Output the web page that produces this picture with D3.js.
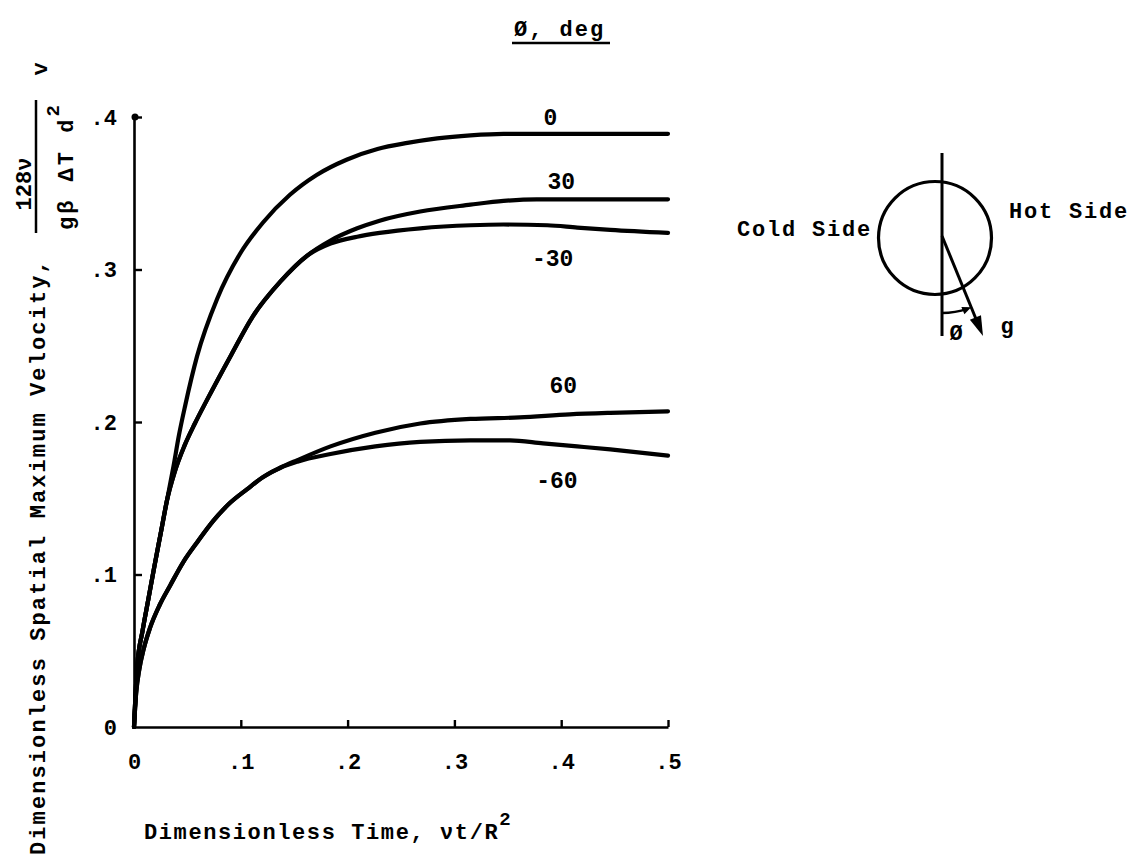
<!DOCTYPE html>
<html>
<head>
<meta charset="utf-8">
<script src="https://cdn.jsdelivr.net/npm/d3@7.9.0/dist/d3.min.js"></script>
<style>
  body { margin: 0; background: #fff; }
  svg { display: block; }
  text { font-family: "Liberation Mono", "DejaVu Sans Mono", monospace; font-weight: bold; fill: #000; }
</style>
</head>
<body>
<svg id="chart" width="1136" height="859"></svg>
<script>
// axis ticks
const timeTicks = [0, 0.1, 0.2, 0.3, 0.4, 0.5];
const timeTickLabels = ["0", ".1", ".2", ".3", ".4", ".5"];
const velTicks = [0, 0.1, 0.2, 0.3, 0.4];
const velTickLabels = ["0", ".1", ".2", ".3", ".4"];

// curves: [time, velocity]
const phi0 = [[0, 0], [0.003, 0.040], [0.008, 0.063], [0.0135, 0.084], [0.019, 0.105], [0.025, 0.127],
  [0.031, 0.149], [0.037, 0.171], [0.042, 0.191], [0.048, 0.211], [0.059, 0.243], [0.078, 0.281],
  [0.099, 0.310], [0.121, 0.331], [0.146, 0.349], [0.171, 0.362], [0.199, 0.372], [0.228, 0.379],
  [0.256, 0.383], [0.284, 0.386], [0.315, 0.388], [0.346, 0.389], [0.446, 0.389], [0.5, 0.389]];
const phi30 = [[0, 0], [0.003, 0.040], [0.008, 0.063], [0.0135, 0.084], [0.019, 0.105], [0.025, 0.127],
  [0.031, 0.149], [0.038, 0.167], [0.047, 0.184], [0.057, 0.199], [0.068, 0.214], [0.091, 0.244],
  [0.111, 0.269], [0.137, 0.292], [0.162, 0.309], [0.184, 0.319], [0.209, 0.327], [0.230, 0.332],
  [0.268, 0.338], [0.315, 0.3425], [0.346, 0.345], [0.377, 0.346], [0.446, 0.346], [0.5, 0.346]];
const phiM30 = [[0, 0], [0.003, 0.040], [0.008, 0.063], [0.0135, 0.084], [0.019, 0.105], [0.025, 0.127],
  [0.031, 0.149], [0.038, 0.167], [0.047, 0.184], [0.057, 0.199], [0.068, 0.214], [0.091, 0.244],
  [0.111, 0.269], [0.137, 0.292], [0.162, 0.309], [0.184, 0.317], [0.209, 0.3215], [0.230, 0.324],
  [0.268, 0.327], [0.315, 0.329], [0.346, 0.3295], [0.387, 0.329], [0.415, 0.3275], [0.446, 0.326], [0.5, 0.324]];
const phi60 = [[0, 0], [0.002, 0.022], [0.005, 0.038], [0.009, 0.051], [0.015, 0.065], [0.024, 0.080],
  [0.034, 0.093], [0.046, 0.108], [0.059, 0.121], [0.074, 0.135], [0.090, 0.147], [0.106, 0.156],
  [0.121, 0.164], [0.137, 0.170], [0.153, 0.175], [0.184, 0.184], [0.226, 0.193], [0.268, 0.199],
  [0.315, 0.202], [0.361, 0.203], [0.408, 0.205], [0.446, 0.206], [0.5, 0.207]];
const phiM60 = [[0, 0], [0.002, 0.022], [0.005, 0.038], [0.009, 0.051], [0.015, 0.065], [0.024, 0.080],
  [0.034, 0.093], [0.046, 0.108], [0.059, 0.121], [0.074, 0.135], [0.090, 0.147], [0.106, 0.156],
  [0.121, 0.164], [0.137, 0.170], [0.153, 0.174], [0.184, 0.179], [0.226, 0.184], [0.268, 0.187],
  [0.315, 0.188], [0.352, 0.188], [0.383, 0.186], [0.415, 0.184], [0.446, 0.182], [0.5, 0.178]];

const seriesNames = ["0", "30", "-30", "60", "-60"];
const seriesData = [phi0, phi30, phiM30, phi60, phiM60];

const svg = d3.select("#chart");

const x = d3.scaleLinear().domain([0, 0.5]).range([134, 668]);
const y = d3.scaleLinear().domain([0, 0.4]).range([727, 117]);

// y axis, ticks pointing into the plot
const yAxis = svg.append("g")
  .attr("transform", `translate(${x(0)},0)`)
  .call(d3.axisLeft(y).tickValues(velTicks)
    .tickFormat((d, i) => velTickLabels[i])
    .tickSizeInner(-8).tickSizeOuter(0).tickPadding(17));

const xAxis = svg.append("g")
  .attr("transform", `translate(0,${y(0)})`)
  .call(d3.axisBottom(x).tickValues(timeTicks)
    .tickFormat((d, i) => timeTickLabels[i])
    .tickSizeInner(-7).tickSizeOuter(0).tickPadding(26));

[yAxis, xAxis].forEach(ax => {
  ax.select(".domain").attr("stroke", "#000").attr("stroke-width", 2.6);
  ax.selectAll(".tick line").attr("stroke", "#000").attr("stroke-width", 2.4);
  ax.selectAll(".tick text").attr("font-size", 22).attr("font-family", null).attr("fill", "#000");
});
// zero ticks would sit on the other axis
yAxis.selectAll(".tick line").filter(d => d === 0).remove();
xAxis.selectAll(".tick line").filter(d => d === 0).remove();
// blob at top of y axis
svg.append("circle").attr("cx", x(0) + 1).attr("cy", y(0.4)).attr("r", 3.5).attr("fill", "#000");

// curves
const line = d3.line()
  .x(d => x(d[0]))
  .y(d => y(d[1]))
  .curve(d3.curveMonotoneX);

svg.append("g").selectAll("path")
  .data(seriesData)
  .join("path")
  .attr("d", line)
  .attr("fill", "none")
  .attr("stroke", "#000")
  .attr("stroke-width", 4.2)
  .attr("stroke-linecap", "round");

// curve labels
const labelAt = [[0.39, 0.395], [0.40, 0.353], [0.392, 0.302], [0.402, 0.219], [0.396, 0.157]];
svg.append("g").selectAll("text")
  .data(seriesNames)
  .join("text")
  .attr("x", (d, i) => x(labelAt[i][0]))
  .attr("y", (d, i) => y(labelAt[i][1]))
  .attr("text-anchor", "middle")
  .attr("font-size", 23)
  .text(d => d);

// legend title
svg.append("text").attr("x", 514).attr("y", 36).attr("font-size", 22)
  .attr("letter-spacing", 2).text("Ø, deg");
svg.append("line").attr("x1", 512).attr("x2", 610).attr("y1", 43).attr("y2", 43)
  .attr("stroke", "#000").attr("stroke-width", 2.5);

// x axis title
const xt = svg.append("text").attr("x", 144).attr("y", 839).attr("font-size", 22)
  .attr("letter-spacing", 1.6);
xt.append("tspan").text("Dimensionless Time, νt/R");
xt.append("tspan").attr("font-size", 19).attr("dy", -14).text("2");

// y axis title, rotated
const yt = svg.append("g").attr("transform", "translate(45,855) rotate(-90)");
yt.append("text").attr("x", 0).attr("y", 0).attr("font-size", 22)
  .attr("letter-spacing", 2.1).text("Dimensionless Spatial Maximum Velocity,");
yt.append("text").attr("x", 671).attr("y", -14).attr("font-size", 22)
  .attr("text-anchor", "middle").text("128ν");
yt.append("line").attr("x1", 622).attr("x2", 755).attr("y1", -9).attr("y2", -9)
  .attr("stroke", "#000").attr("stroke-width", 2.5);
const den = yt.append("text").attr("x", 625).attr("y", 28).attr("font-size", 22)
  .attr("letter-spacing", 3);
den.append("tspan").text("gβ ΔT d");
den.append("tspan").attr("font-size", 19).attr("dy", -14).text("2");
yt.append("text").attr("x", 786).attr("y", 2).attr("font-size", 22)
  .attr("text-anchor", "middle").text("v");

// inset sketch of the tilted tube
const cx = 935, cy = 238, r = 56.5;
const sk = svg.append("g").attr("stroke", "#000").attr("fill", "none");
sk.append("circle").attr("cx", cx).attr("cy", cy).attr("r", r).attr("stroke-width", 3.2);
sk.append("line").attr("x1", 942).attr("x2", 942).attr("y1", 153).attr("y2", 336).attr("stroke-width", 3);
const gx0 = 942, gy0 = 236, gx1 = 983, gy1 = 336;
const ang = Math.atan2(gy1 - gy0, gx1 - gx0);
sk.append("line").attr("x1", gx0).attr("y1", gy0)
  .attr("x2", gx1 - 16 * Math.cos(ang)).attr("y2", gy1 - 16 * Math.sin(ang))
  .attr("stroke-width", 3);
const head = (tx, ty, a, len, w) => {
  const bx = tx - len * Math.cos(a), by = ty - len * Math.sin(a);
  const px = -Math.sin(a) * w, py = Math.cos(a) * w;
  return `M${tx},${ty}L${bx + px},${by + py}L${bx - px},${by - py}Z`;
};
svg.append("path").attr("d", head(gx1, gy1, ang, 20, 6)).attr("fill", "#000");
// angle arc
const ar = 77;
const arc = d3.path();
arc.arc(gx0, gy0, ar, Math.PI / 2, ang + 0.05, true);
sk.append("path").attr("d", arc.toString()).attr("stroke-width", 2.4);
const ax1 = gx0 + ar * Math.cos(ang), ay1 = gy0 + ar * Math.sin(ang);
svg.append("path").attr("d", head(ax1, ay1, ang - Math.PI / 2, 9, 4)).attr("fill", "#000");

svg.append("text").attr("x", 956).attr("y", 340).attr("font-size", 22).attr("text-anchor", "middle").text("Ø");
svg.append("text").attr("x", 1007).attr("y", 333).attr("font-size", 22).attr("text-anchor", "middle").text("g");
svg.append("text").attr("x", 1009).attr("y", 218).attr("font-size", 22).attr("letter-spacing", 1.8).text("Hot Side");
svg.append("text").attr("x", 872).attr("y", 236).attr("font-size", 22).attr("letter-spacing", 1.8)
  .attr("text-anchor", "end").text("Cold Side");
</script>
</body>
</html>
